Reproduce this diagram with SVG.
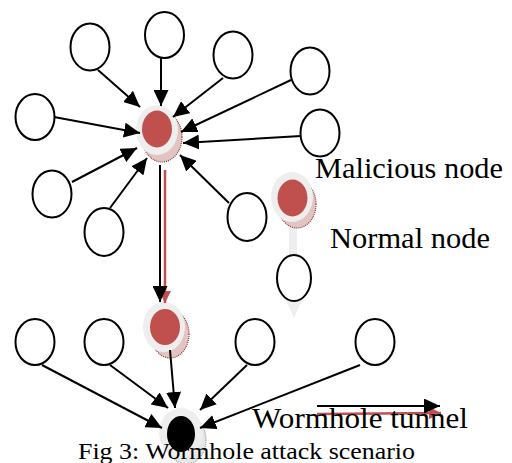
<svg xmlns="http://www.w3.org/2000/svg" width="512" height="463" viewBox="0 0 512 463">
  <style>
    .plain { fill: #ffffff; stroke: #000000; stroke-width: 2; }
    .halo { fill: #eeeeee; stroke: none; }
    .shade { fill: #e2c4c4; stroke: #8a3b3b; stroke-width: 1.2; stroke-dasharray: 1 1; }
    .shade-grey { fill: #e6e6e6; stroke: #9a9a9a; stroke-width: 1.2; stroke-dasharray: 1 1; }
    .bad { fill: #c0504d; stroke: none; }
    .hole { fill: #000000; stroke: none; }
    .edge { stroke: #000000; stroke-width: 2; fill: none; marker-end: url(#head); }
    .edge-red { stroke: #c0504d; stroke-width: 2.5; fill: none; marker-end: url(#head-red); }
    .label { font-family: "Liberation Serif", "Times New Roman", serif; fill: #000000; }
  </style>
  <defs>
    <marker id="head" markerUnits="userSpaceOnUse" markerWidth="16" markerHeight="15" refX="16" refY="7.5" orient="auto">
      <path d="M0,0 L16,7.5 L0,15 z" fill="#000000"/>
    </marker>
    <marker id="head-red" markerUnits="userSpaceOnUse" markerWidth="12" markerHeight="12" refX="12" refY="6" orient="auto">
      <path d="M0,0 L12,6 L0,12 z" fill="#c0504d"/>
    </marker>
  </defs>

  <rect width="512" height="463" fill="#ffffff"/>

  <!-- legend stick behind the legend nodes -->
  <g id="legend-stick">
    <rect x="289" y="212" width="8" height="92" fill="#eeeeee"/>
    <path d="M285,298 L303,298 L294,318 z" fill="#eeeeee"/>
  </g>

  <!-- upper cluster: ordinary nodes -->
  <g id="n-top-1"><ellipse class="plain" cx="90" cy="47" rx="19.5" ry="23.5"/></g>
  <g id="n-top-2"><ellipse class="plain" cx="164.5" cy="35" rx="19.5" ry="23"/></g>
  <g id="n-top-3"><ellipse class="plain" cx="233" cy="55" rx="19.5" ry="23.5"/></g>
  <g id="n-top-4"><ellipse class="plain" cx="310" cy="71" rx="19.5" ry="23.5"/></g>
  <g id="n-top-5"><ellipse class="plain" cx="320" cy="133" rx="19.5" ry="23.5"/></g>
  <g id="n-top-6"><ellipse class="plain" cx="35" cy="117" rx="19.5" ry="23"/></g>
  <g id="n-top-7"><ellipse class="plain" cx="52" cy="194" rx="19.5" ry="23.5"/></g>
  <g id="n-top-8"><ellipse class="plain" cx="104" cy="232" rx="19.5" ry="24"/></g>
  <g id="n-top-9"><ellipse class="plain" cx="247" cy="217" rx="19.5" ry="24"/></g>

  <!-- upper malicious node -->
  <g id="m-top">
    <ellipse class="shade" cx="162" cy="137" rx="20" ry="25"/>
    <ellipse class="halo" cx="157" cy="130" rx="21" ry="25"/>
    <ellipse class="bad" cx="157" cy="129" rx="15" ry="18.5"/>
  </g>

  <!-- middle malicious node -->
  <g id="m-mid">
    <ellipse class="shade" cx="170" cy="334" rx="19" ry="24"/>
    <ellipse class="halo" cx="164" cy="327" rx="21" ry="25"/>
    <ellipse class="bad" cx="165" cy="327" rx="15" ry="18"/>
  </g>

  <!-- lower cluster: ordinary nodes -->
  <g id="n-bot-1"><ellipse class="plain" cx="35" cy="342" rx="19.5" ry="23"/></g>
  <g id="n-bot-2"><ellipse class="plain" cx="104" cy="342" rx="19.5" ry="23"/></g>
  <g id="n-bot-3"><ellipse class="plain" cx="255" cy="342" rx="19.5" ry="23"/></g>
  <g id="n-bot-4"><ellipse class="plain" cx="375" cy="342" rx="19.5" ry="23"/></g>

  <!-- destination node -->
  <g id="sink">
    <ellipse class="shade-grey" cx="186" cy="440" rx="20" ry="24"/>
    <ellipse class="halo" cx="181" cy="433" rx="22" ry="25"/>
    <ellipse class="hole" cx="181" cy="434" rx="14" ry="18"/>
  </g>

  <!-- legend nodes -->
  <g id="legend-malicious">
    <ellipse class="shade" cx="297" cy="204" rx="19" ry="24"/>
    <ellipse class="halo" cx="292" cy="197" rx="21" ry="25"/>
    <ellipse class="bad" cx="292.5" cy="198" rx="15" ry="18.5"/>
  </g>
  <g id="legend-normal"><ellipse class="plain" cx="294" cy="278" rx="17" ry="23"/></g>

  <!-- connectors -->
  <g id="connectors">
    <line class="edge" x1="98" y1="70" x2="140" y2="107"/>
    <line class="edge" x1="161" y1="58" x2="161" y2="106"/>
    <line class="edge" x1="223" y1="78" x2="173" y2="117"/>
    <line class="edge" x1="291" y1="80" x2="181" y2="132"/>
    <line class="edge" x1="301" y1="136" x2="183" y2="143"/>
    <line class="edge" x1="54" y1="117" x2="140" y2="133"/>
    <line class="edge" x1="72" y1="182" x2="137" y2="148"/>
    <line class="edge" x1="110" y1="208" x2="147" y2="158"/>
    <line class="edge" x1="229" y1="203" x2="180" y2="155"/>

    <line class="edge-red" x1="165" y1="170" x2="165" y2="303"/>
    <line class="edge" x1="160" y1="165" x2="160" y2="302"/>

    <line class="edge" x1="42" y1="365" x2="162" y2="428"/>
    <line class="edge" x1="110" y1="365" x2="168" y2="408"/>
    <line class="edge" x1="170" y1="350" x2="175" y2="408"/>
    <line class="edge" x1="247" y1="365" x2="200" y2="410"/>
    <line class="edge" x1="360" y1="365" x2="200" y2="428"/>

    <line class="edge-red" x1="317" y1="414" x2="441" y2="413"/>
    <line class="edge" x1="317" y1="406" x2="440" y2="406"/>
  </g>

  <!-- labels -->
  <g id="labels">
    <text class="label" x="315" y="178" font-size="30" textLength="188" lengthAdjust="spacingAndGlyphs">Malicious node</text>
    <text class="label" x="330" y="248" font-size="30" textLength="160" lengthAdjust="spacingAndGlyphs">Normal node</text>
    <text class="label" x="252" y="428" font-size="30" textLength="216" lengthAdjust="spacingAndGlyphs">Wormhole tunnel</text>
    <text class="label" x="78" y="459" font-size="24" textLength="337" lengthAdjust="spacingAndGlyphs">Fig 3: Wormhole attack scenario</text>
  </g>
</svg>
